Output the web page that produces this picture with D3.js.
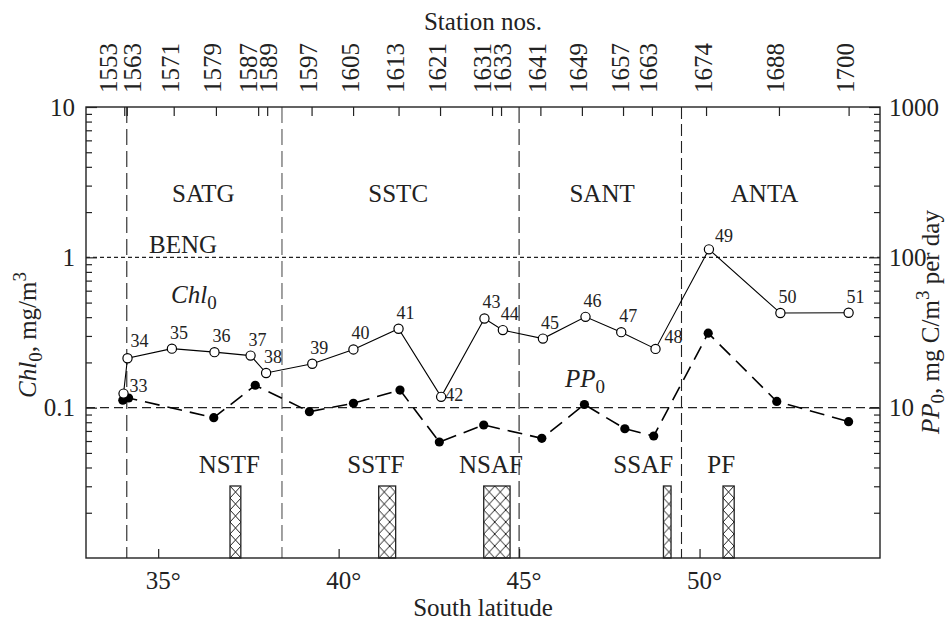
<!DOCTYPE html>
<html>
<head>
<meta charset="utf-8">
<script src="https://cdn.jsdelivr.net/npm/d3@7"></script>
<style>
  body { margin: 0; background: #fff; }
  svg { display: block; font-family: "Liberation Serif", "Times New Roman", serif; }
</style>
</head>
<body>
<svg id="chart" width="951" height="621"></svg>
<script>
// station numbers along the top and where they sit in latitude
const stations = [1553, 1563, 1571, 1579, 1587, 1589, 1597, 1605, 1613, 1621, 1631, 1633, 1641, 1649, 1657, 1663, 1674, 1688, 1700];
const stationLat = [34.06, 34.13, 35.43, 36.60, 37.77, 38.02, 39.25, 40.40, 41.66, 42.81, 44.25, 44.50, 45.59, 46.74, 47.88, 48.68, 50.18, 52.20, 54.13];

// surface chlorophyll (open circles), mg/m3
const chlNo = [33, 34, 35, 36, 37, 38, 39, 40, 41, 42, 43, 44, 45, 46, 47, 48, 49, 50, 51];
const chlLat = [34.04, 34.15, 35.38, 36.56, 37.56, 37.99, 39.27, 40.41, 41.66, 42.84, 44.04, 44.55, 45.66, 46.84, 47.83, 48.78, 50.26, 52.24, 54.13];
const chlValues = [0.124, 0.213, 0.247, 0.234, 0.222, 0.170, 0.196, 0.244, 0.335, 0.118, 0.392, 0.328, 0.288, 0.402, 0.318, 0.246, 1.13, 0.426, 0.428];

// surface primary production (filled circles), mg C/m3 per day
const ppLat = [34.02, 34.18, 36.54, 37.69, 39.19, 40.41, 41.70, 42.79, 44.02, 45.63, 46.81, 47.93, 48.73, 50.24, 52.14, 54.13];
const ppValues = [11.2, 11.6, 8.58, 14.1, 9.4, 10.7, 13.1, 5.91, 7.67, 6.25, 10.5, 7.24, 6.48, 31.3, 11.0, 8.07];

// water zones and fronts
const zoneBounds = [34.13, 38.43, 45.0, 49.5];
const zoneNames = ["SATG", "SSTC", "SANT", "ANTA"];
const zoneLabelLat = [36.25, 41.65, 47.3, 51.8];
const frontNames = ["NSTF", "SSTF", "NSAF", "SSAF", "PF"];
const frontFrom = [36.99, 41.11, 44.02, 49.0, 50.65];
const frontTo = [37.29, 41.58, 44.75, 49.21, 50.96];
const frontLabelLat = [36.97, 41.03, 44.22, 48.44, 50.6];

const latTicks = [35, 40, 45, 50];
const chlTicks = [0.1, 1, 10];
const ppTicks = [10, 100, 1000];

const W = 951, H = 621;
const margin = { top: 107, right: 71, bottom: 63, left: 86 };
const bottom = H - margin.bottom, right = W - margin.right;

const svg = d3.select("#chart");
svg.append("rect").attr("width", W).attr("height", H).attr("fill", "#fff");

const x = d3.scaleLinear().domain([33, 55]).range([margin.left, right]);
const yChl = d3.scaleLog().domain([0.01, 10]).range([bottom, margin.top]);
const yPP = d3.scaleLog().domain([1, 1000]).range([bottom, margin.top]);

const isDecade = v => Math.abs(Math.log10(v) - Math.round(Math.log10(v))) < 1e-6;
const ink = "#222";

// label nudges (px) where station numbers crowd each other
const stationNudge = { 1553: -16, 1563: 6, 1587: -10, 1589: 1, 1631: -10, 1633: 1 };
// label offsets for point numbers that are not above-right
const numOffset = { 33: [6, -2], 34: [3, -11], 42: [4, 4], 48: [9, -6], 49: [6, -7] };

// ---- horizontal reference lines
svg.append("line")
    .attr("x1", margin.left).attr("x2", right)
    .attr("y1", yChl(1)).attr("y2", yChl(1))
    .attr("stroke", ink).attr("stroke-width", 1.1)
    .attr("stroke-dasharray", "4,3");

svg.append("line")
    .attr("x1", margin.left).attr("x2", right)
    .attr("y1", yChl(0.1)).attr("y2", yChl(0.1))
    .attr("stroke", ink).attr("stroke-width", 1.1)
    .attr("stroke-dasharray", "9,5");

// ---- zone boundaries
svg.append("g").selectAll("line")
    .data(zoneBounds)
    .join("line")
    .attr("x1", d => x(d)).attr("x2", d => x(d))
    .attr("y1", margin.top).attr("y2", bottom)
    .attr("stroke", (d, i) => i === 1 ? "#555" : ink)
    .attr("stroke-width", 1.1)
    .attr("stroke-dasharray", (d, i) => i === 3 ? "12,5" : "16,6");

svg.append("g").selectAll("text")
    .data(zoneNames)
    .join("text")
    .attr("x", (d, i) => x(zoneLabelLat[i]))
    .attr("y", 202)
    .attr("text-anchor", "middle")
    .attr("font-size", 25)
    .attr("fill", ink)
    .text(d => d);

svg.append("text")
    .attr("x", x(35.69)).attr("y", 253)
    .attr("text-anchor", "middle")
    .attr("font-size", 25)
    .attr("fill", ink)
    .text("BENG");

// ---- fronts, cross-hatched bars
const barTop = bottom - 72;
const defs = svg.append("defs");
frontNames.forEach((name, i) => {
    const pat = defs.append("pattern")
        .attr("id", "hatch" + i)
        .attr("patternUnits", "userSpaceOnUse")
        .attr("x", x(frontFrom[i])).attr("y", barTop)
        .attr("width", 11).attr("height", 12);
    pat.append("rect").attr("width", 11).attr("height", 12).attr("fill", "#fff");
    pat.append("path")
        .attr("d", "M0,0L11,12M11,0L0,12")
        .attr("stroke", ink).attr("stroke-width", 1);
});

svg.append("g").selectAll("rect")
    .data(frontNames)
    .join("rect")
    .attr("x", (d, i) => x(frontFrom[i]))
    .attr("y", barTop)
    .attr("width", (d, i) => x(frontTo[i]) - x(frontFrom[i]))
    .attr("height", bottom - barTop)
    .attr("fill", (d, i) => `url(#hatch${i})`)
    .attr("stroke", ink).attr("stroke-width", 1.3);

svg.append("g").selectAll("text")
    .data(frontNames)
    .join("text")
    .attr("x", (d, i) => x(frontLabelLat[i]))
    .attr("y", 473)
    .attr("text-anchor", "middle")
    .attr("font-size", 25)
    .attr("fill", ink)
    .text(d => d);

// ---- PP line (dashed, filled points)
const ppLine = d3.line()
    .x(d => x(d[0]))
    .y(d => yPP(d[1]));
const ppData = ppLat.map((lat, i) => [lat, ppValues[i]]);

svg.append("path")
    .datum(ppData)
    .attr("d", ppLine)
    .attr("fill", "none")
    .attr("stroke", "#000").attr("stroke-width", 1.6)
    .attr("stroke-dasharray", "15,8");

svg.append("g").selectAll("circle")
    .data(ppData)
    .join("circle")
    .attr("cx", d => x(d[0]))
    .attr("cy", d => yPP(d[1]))
    .attr("r", 4.6)
    .attr("fill", "#000");

// ---- Chl line (solid, open points)
const chlLine = d3.line()
    .x(d => x(d[0]))
    .y(d => yChl(d[1]));
const chlData = chlLat.map((lat, i) => [lat, chlValues[i], chlNo[i]]);

svg.append("path")
    .datum(chlData)
    .attr("d", chlLine)
    .attr("fill", "none")
    .attr("stroke", "#000").attr("stroke-width", 1.1);

svg.append("g").selectAll("circle")
    .data(chlData)
    .join("circle")
    .attr("cx", d => x(d[0]))
    .attr("cy", d => yChl(d[1]))
    .attr("r", 4.6)
    .attr("fill", "#fff")
    .attr("stroke", "#000").attr("stroke-width", 1.2);

svg.append("g").selectAll("text")
    .data(chlData)
    .join("text")
    .attr("x", d => x(d[0]) + (numOffset[d[2]] ? numOffset[d[2]][0] : -2))
    .attr("y", d => yChl(d[1]) + (numOffset[d[2]] ? numOffset[d[2]][1] : -10))
    .attr("font-size", 18)
    .attr("fill", ink)
    .text(d => d[2]);

// series names
const chlName = svg.append("text")
    .attr("x", 171).attr("y", 303)
    .attr("font-size", 25).attr("fill", ink)
    .attr("font-style", "italic");
chlName.append("tspan").text("Chl");
chlName.append("tspan").attr("font-style", "normal").attr("font-size", 19).attr("dy", 6).text("0");

const ppName = svg.append("text")
    .attr("x", 565).attr("y", 387)
    .attr("font-size", 25).attr("fill", ink)
    .attr("font-style", "italic");
ppName.append("tspan").text("PP");
ppName.append("tspan").attr("font-style", "normal").attr("font-size", 19).attr("dy", 6).text("0");

// ---- frame
svg.append("rect")
    .attr("x", margin.left).attr("y", margin.top)
    .attr("width", right - margin.left).attr("height", bottom - margin.top)
    .attr("fill", "none")
    .attr("stroke", ink).attr("stroke-width", 1.4);

// ---- axes (ticks point inwards)
const cleanAxis = g => g.call(a => a.select(".domain").remove())
    .selectAll("line").attr("stroke", ink).attr("stroke-width", 1.2);

svg.append("g").attr("transform", `translate(${margin.left},0)`)
    .call(d3.axisRight(yChl).tickValues(yChl.ticks().filter(v => !isDecade(v))).tickSize(6).tickSizeOuter(0).tickFormat(""))
    .call(cleanAxis);
svg.append("g").attr("transform", `translate(${margin.left},0)`)
    .call(d3.axisRight(yChl).tickValues(chlTicks).tickSize(11).tickSizeOuter(0).tickFormat(""))
    .call(cleanAxis);

svg.append("g").attr("transform", `translate(${right},0)`)
    .call(d3.axisLeft(yPP).tickValues(yPP.ticks().filter(v => !isDecade(v))).tickSize(6).tickSizeOuter(0).tickFormat(""))
    .call(cleanAxis);
svg.append("g").attr("transform", `translate(${right},0)`)
    .call(d3.axisLeft(yPP).tickValues(ppTicks).tickSize(11).tickSizeOuter(0).tickFormat(""))
    .call(cleanAxis);

svg.append("g").attr("transform", `translate(0,${bottom})`)
    .call(d3.axisTop(x).tickValues(latTicks).tickSize(9).tickSizeOuter(0).tickFormat(""))
    .call(cleanAxis);

svg.append("g").attr("transform", `translate(0,${margin.top})`)
    .call(d3.axisBottom(x).tickValues(stationLat).tickSize(9).tickSizeOuter(0).tickFormat(""))
    .call(cleanAxis);

// tick labels
svg.append("g").selectAll("text")
    .data(chlTicks)
    .join("text")
    .attr("x", 75).attr("y", d => yChl(d))
    .attr("dy", "0.34em")
    .attr("text-anchor", "end")
    .attr("font-size", 25).attr("fill", ink)
    .text(d => String(d));

svg.append("g").selectAll("text")
    .data(ppTicks)
    .join("text")
    .attr("x", right + 9).attr("y", d => yPP(d))
    .attr("dy", "0.34em")
    .attr("font-size", 25).attr("fill", ink)
    .text(d => String(d));

svg.append("g").selectAll("text")
    .data(latTicks)
    .join("text")
    .attr("x", d => x(d) + 5).attr("y", 589)
    .attr("text-anchor", "middle")
    .attr("font-size", 25).attr("fill", ink)
    .text(d => d + "°");

svg.append("g").selectAll("text")
    .data(stations)
    .join("text")
    .attr("transform", (d, i) => {
        const cx = x(stationLat[i]) + (d in stationNudge ? stationNudge[d] : -3);
        return `translate(${cx},93) rotate(-90)`;
    })
    .attr("dy", "0.34em")
    .attr("font-size", 25).attr("fill", ink)
    .text(d => d);

// axis titles
svg.append("text")
    .attr("x", (margin.left + right) / 2).attr("y", 30)
    .attr("text-anchor", "middle")
    .attr("font-size", 25).attr("fill", ink)
    .text("Station nos.");

svg.append("text")
    .attr("x", (margin.left + right) / 2).attr("y", 616)
    .attr("text-anchor", "middle")
    .attr("font-size", 25).attr("fill", ink)
    .text("South latitude");

const leftTitle = svg.append("text")
    .attr("transform", "translate(36,335) rotate(-90)")
    .attr("text-anchor", "middle")
    .attr("font-size", 25).attr("fill", ink);
leftTitle.append("tspan").attr("font-style", "italic").text("Chl");
leftTitle.append("tspan").attr("font-size", 19).attr("dy", 6).text("0");
leftTitle.append("tspan").attr("dy", -6).text(", mg/m");
leftTitle.append("tspan").attr("font-size", 19).attr("dy", -10).text("3");

const rightTitle = svg.append("text")
    .attr("transform", "translate(939,322) rotate(-90)")
    .attr("text-anchor", "middle")
    .attr("font-size", 25).attr("fill", ink);
rightTitle.append("tspan").attr("font-style", "italic").text("PP");
rightTitle.append("tspan").attr("font-size", 19).attr("dy", 5).text("0");
rightTitle.append("tspan").attr("dy", -5).text(", mg C/m");
rightTitle.append("tspan").attr("font-size", 19).attr("dy", -10).text("3");
rightTitle.append("tspan").attr("dy", 10).text(" per day");
</script>
</body>
</html>
